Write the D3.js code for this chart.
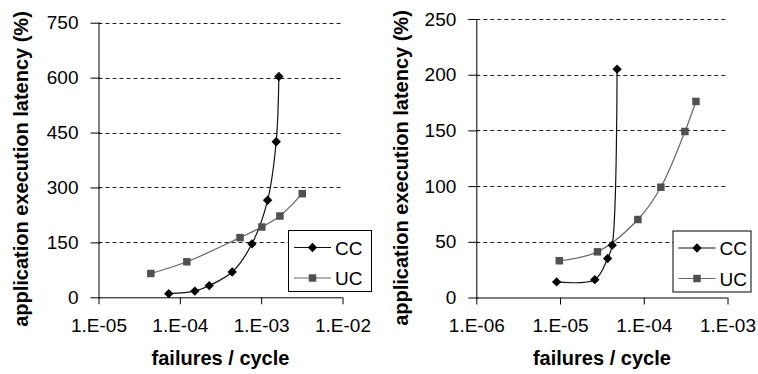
<!DOCTYPE html>
<html><head><meta charset="utf-8">
<script src="https://cdn.jsdelivr.net/npm/d3@7"></script>
<style>
html,body{margin:0;padding:0;background:#fff;}
svg text{font-family:"Liberation Sans",Arial,sans-serif;fill:#000;}
</style></head>
<body><svg id="c" width="758" height="374"></svg>
<script>
// ---- data ----
const seriesNames = ["CC", "UC"];
const leftXTicks = [1e-5, 1e-4, 1e-3, 1e-2];
const leftYTicks = [0, 150, 300, 450, 600, 750];
const leftCCx = [7.3e-5, 1.53e-4, 2.3e-4, 4.4e-4, 7.7e-4, 1.2e-3, 1.53e-3, 1.65e-3];
const leftCCy = [10, 17, 32, 69, 146, 265, 425, 603];
const leftUCx = [4.4e-5, 1.22e-4, 5.5e-4, 1.02e-3, 1.7e-3, 3.2e-3];
const leftUCy = [65, 97, 163, 192, 222, 283];

const rightXTicks = [1e-6, 1e-5, 1e-4, 1e-3];
const rightYTicks = [0, 50, 100, 150, 200, 250];
const rightCCx = [9.1e-6, 2.6e-5, 3.7e-5, 4.2e-5, 4.8e-5];
const rightCCy = [14, 16, 35, 47, 205];
const rightUCx = [9.8e-6, 2.8e-5, 8.5e-5, 1.6e-4, 3.1e-4, 4.2e-4];
const rightUCy = [33, 41, 70, 99, 149, 176];

const xTitle = "failures / cycle";
const yTitle = "application execution latency (%)";
const fmtExp = d => { const e = Math.round(Math.log10(d)); return "1.E" + (e < 0 ? "-" : "+") + String(Math.abs(e)).padStart(2, "0"); };

const svg = d3.select("#c");

function panel(cfg) {
  const g = svg.append("g");
  const x = d3.scaleLog().domain([cfg.xTicks[0], cfg.xTicks[cfg.xTicks.length - 1]]).range([cfg.x0, cfg.x1]);
  const y = d3.scaleLinear().domain([cfg.yTicks[0], cfg.yTicks[cfg.yTicks.length - 1]]).range([cfg.y0, cfg.y1]);

  // gridlines (dashed)
  g.append("g").selectAll("line").data(cfg.yTicks.slice(1)).join("line")
    .attr("x1", cfg.x0).attr("x2", cfg.x1 - 2)
    .attr("y1", d => Math.round(y(d)) + 0.5).attr("y2", d => Math.round(y(d)) + 0.5)
    .attr("stroke", "#222").attr("stroke-width", 1).attr("stroke-dasharray", "4,3");

  // y axis
  const ya = d3.axisLeft(y).tickValues(cfg.yTicks).tickSize(8).tickPadding(12).tickFormat(d3.format("d"));
  const yg = g.append("g").attr("transform", `translate(${cfg.x0},0)`).call(ya);
  yg.select(".domain").attr("d", `M0.5,${cfg.y1}V${cfg.y0}`).attr("stroke", "#000");
  yg.selectAll(".tick line").attr("x1", 2).attr("stroke", "#000");
  yg.selectAll("text").style("font-size", "19px").attr("fill", "#111");

  // x axis
  const xa = d3.axisBottom(x).tickValues(cfg.xTicks).tickSize(7).tickPadding(14).tickFormat(fmtExp);
  const xg = g.append("g").attr("transform", `translate(0,${cfg.y0})`).call(xa);
  xg.select(".domain").attr("d", `M${cfg.x0},0.5H${cfg.x1}`).attr("stroke", "#000");
  xg.selectAll(".tick line").attr("stroke", "#000");
  xg.selectAll("text").style("font-size", "19px").attr("fill", "#111");

  // titles
  g.append("text").attr("x", (cfg.x0 + cfg.x1) / 2).attr("y", 365).attr("text-anchor", "middle")
    .style("font-size", "20px").style("font-weight", "bold").text(xTitle);
  g.append("text").attr("transform", `translate(${cfg.yt},${cfg.ytc}) rotate(-90)`).attr("text-anchor", "middle")
    .style("font-size", "20px").style("font-weight", "bold").text(yTitle);

  const line = d3.line().x(d => x(d[0])).y(d => y(d[1])).curve(d3.curveCatmullRom.alpha(0.5));
  const cc = cfg.ccx.map((v, i) => [v, cfg.ccy[i]]);
  const uc = cfg.ucx.map((v, i) => [v, cfg.ucy[i]]);

  g.append("path").datum(uc).attr("d", line).attr("fill", "none").attr("stroke", "#666").attr("stroke-width", 1.2);
  g.append("path").datum(cc).attr("d", line).attr("fill", "none").attr("stroke", "#111").attr("stroke-width", 1.2);

  const sq = d3.symbol().type(d3.symbolSquare).size(56);
  const dm = d3.symbol().type(d3.symbolSquare).size(44);
  g.append("g").selectAll("path").data(uc).join("path")
    .attr("transform", d => `translate(${x(d[0])},${y(d[1])})`).attr("d", sq).attr("fill", "#505050");
  g.append("g").selectAll("path").data(cc).join("path")
    .attr("transform", d => `translate(${x(d[0])},${y(d[1])}) rotate(45)`).attr("d", dm).attr("fill", "#000");

  // legend
  const L = cfg.leg;
  const lg = g.append("g");
  lg.append("rect").attr("x", L.x + 0.5).attr("y", L.y + 0.5).attr("width", L.w).attr("height", L.h)
    .attr("fill", "#fff").attr("stroke", "#000").attr("stroke-width", 1);
  const rows = [
    { name: seriesNames[0], col: "#111", mk: dm, mc: "#000", rot: 45 },
    { name: seriesNames[1], col: "#666", mk: sq, mc: "#505050", rot: 0 }
  ];
  rows.forEach((r, i) => {
    const yy = L.y + 17.5 + i * 30.5;
    lg.append("line").attr("x1", L.x + 6).attr("x2", L.x + 43).attr("y1", yy).attr("y2", yy)
      .attr("stroke", r.col).attr("stroke-width", 1.2);
    lg.append("path").attr("transform", `translate(${L.x + 24.5},${yy}) rotate(${r.rot})`).attr("d", r.mk).attr("fill", r.mc);
    lg.append("text").attr("x", L.x + 47).attr("y", yy + 7).style("font-size", "19px").attr("fill", "#111").text(r.name);
  });
}

panel({ x0: 98.5, x1: 342.5, y0: 297.3, y1: 22.7, xTicks: leftXTicks, yTicks: leftYTicks,
  ccx: leftCCx, ccy: leftCCy, ucx: leftUCx, ucy: leftUCy, yt: 28, ytc: 169,
  leg: { x: 288, y: 230, w: 83, h: 61 } });
panel({ x0: 476.3, x1: 727.5, y0: 297.5, y1: 19, xTicks: rightXTicks, yTicks: rightYTicks,
  ccx: rightCCx, ccy: rightCCy, ucx: rightUCx, ucy: rightUCy, yt: 408, ytc: 168,
  leg: { x: 672.5, y: 230.5, w: 78, h: 61 } });
</script></body></html>
